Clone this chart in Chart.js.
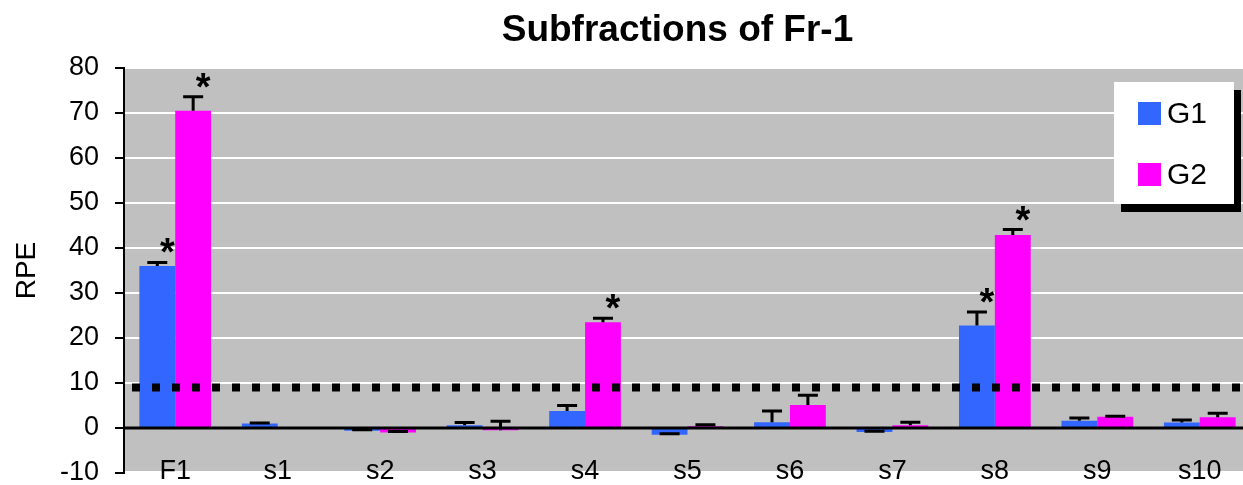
<!DOCTYPE html>
<html>
<head>
<meta charset="utf-8">
<script src="https://cdn.jsdelivr.net/npm/chart.js@4.4.0/dist/chart.umd.min.js"></script>
<style>
  html, body { margin: 0; padding: 0; background: #fff; overflow: hidden; }
  #wrap { width: 1251px; height: 485px; position: relative; }
</style>
</head>
<body>
<div id="wrap"><canvas id="grafico"></canvas></div>
<script>
// Dados
const titulo = "Subfractions of Fr-1";
const categorias = ["F1", "s1", "s2", "s3", "s4", "s5", "s6", "s7", "s8", "s9", "s10"];
const g1Valores = [36.0, 1.0, -0.6, 0.6, 3.8, -1.5, 1.3, -0.9, 22.8, 1.6, 1.2];
const g1Erros   = [0.8, 0.1, 0.2, 0.6, 1.2, 0.2, 2.5, 0.2, 3.0, 0.6, 0.6];
const g1Signif  = [true, false, false, false, false, false, false, false, true, false, false];
const g2Valores = [70.5, 0, -1.0, -0.5, 23.5, 0.4, 5.1, 0.6, 42.9, 2.5, 2.4];
const g2Erros   = [3.1, 0, 0.2, 2.0, 0.9, 0.3, 2.2, 0.7, 1.2, 0.1, 0.9];
const g2Signif  = [true, false, false, false, true, false, false, false, true, false, false];
const limiar = 9;
const yMin = -10, yMax = 80, yPasso = 10;

const FONTE = "'Liberation Sans', Arial, sans-serif";

const fundoPlugin = {
  id: "fundo",
  beforeDraw(chart) {
    const { ctx, chartArea: a } = chart;
    ctx.save();
    ctx.fillStyle = "#c0c0c0";
    ctx.fillRect(a.left, a.top, a.right - a.left, a.bottom - a.top - 2);
    ctx.restore();
  }
};

const extrasPlugin = {
  id: "extras",
  afterDatasetsDraw(chart) {
    const { ctx, chartArea: a } = chart;
    const y = chart.scales.y;
    ctx.save();

    // linha do zero
    ctx.strokeStyle = "#000";
    ctx.lineWidth = 3;
    ctx.beginPath();
    ctx.moveTo(a.left, y.getPixelForValue(0));
    ctx.lineTo(a.right, y.getPixelForValue(0));
    ctx.stroke();

    // barras de erro e asteriscos
    chart.data.datasets.forEach((ds, i) => {
      const meta = chart.getDatasetMeta(i);
      meta.data.forEach((bar, j) => {
        const err = ds.erros[j];
        const v = ds.data[j];
        if (err) {
          const y0 = y.getPixelForValue(v);
          const y1 = y.getPixelForValue(v + err);
          ctx.strokeStyle = "#000";
          ctx.lineWidth = 3;
          ctx.beginPath();
          ctx.moveTo(bar.x, y0);
          ctx.lineTo(bar.x, y1);
          ctx.moveTo(bar.x - 10, y1);
          ctx.lineTo(bar.x + 10, y1);
          ctx.stroke();
        }
        if (ds.signif[j]) {
          const yc = y.getPixelForValue(v + err);
          ctx.fillStyle = "#000";
          ctx.font = "bold 38px " + FONTE;
          ctx.textAlign = "center";
          ctx.textBaseline = "alphabetic";
          ctx.fillText("*", bar.x + 10, yc + 3);
        }
      });
    });

    // linha pontilhada do limiar
    const yl = y.getPixelForValue(limiar);
    ctx.strokeStyle = "#000";
    ctx.lineWidth = 8;
    ctx.setLineDash([8, 12]);
    ctx.beginPath();
    ctx.moveTo(a.left + 8, yl);
    ctx.lineTo(a.right, yl);
    ctx.stroke();
    ctx.setLineDash([]);
    ctx.restore();
  },
  afterDraw(chart) {
    const { ctx, chartArea: a } = chart;
    ctx.save();

    // título
    ctx.fillStyle = "#000";
    ctx.font = "bold 37px " + FONTE;
    ctx.textAlign = "center";
    ctx.textBaseline = "middle";
    ctx.fillText(titulo, (a.left + a.right) / 2 - 10, 31);

    // legenda com sombra
    const x0 = a.right - 137, y0 = a.top + 14, w = 120, h = 122;
    ctx.fillStyle = "#000";
    ctx.fillRect(x0 + 7, y0 + 8, w, h);
    ctx.fillStyle = "#fff";
    ctx.fillRect(x0, y0, w, h);
    chart.data.datasets.forEach((ds, i) => {
      const yy = y0 + 20 + i * 61;
      ctx.fillStyle = ds.backgroundColor;
      ctx.fillRect(x0 + 24, yy, 23, 23);
      ctx.fillStyle = "#000";
      ctx.font = "30px " + FONTE;
      ctx.textAlign = "left";
      ctx.textBaseline = "middle";
      ctx.fillText(ds.label, x0 + 53, yy + 13);
    });
    ctx.restore();
  }
};

new Chart(document.getElementById("grafico"), {
  type: "bar",
  data: {
    labels: categorias,
    datasets: [
      { label: "G1", data: g1Valores, erros: g1Erros, signif: g1Signif, backgroundColor: "#3366ff" },
      { label: "G2", data: g2Valores, erros: g2Erros, signif: g2Signif, backgroundColor: "#ff00ff" }
    ]
  },
  options: {
    responsive: true,
    maintainAspectRatio: false,
    animation: false,
    categoryPercentage: 0.7,
    barPercentage: 1.0,
    layout: { padding: { top: 68, left: 0, right: 0, bottom: 0 } },
    plugins: {
      legend: { display: false },
      tooltip: { enabled: false },
      title: { display: false }
    },
    scales: {
      x: {
        grid: { display: false },
        border: { display: false },
        ticks: { color: "#000", font: { family: FONTE, size: 27 }, mirror: true, padding: -15, maxRotation: 0 },
        afterFit(scale) {
          scale.height = 12;
          scale.paddingLeft = 0;
          scale.paddingRight = 0;
        }
      },
      y: {
        min: yMin,
        max: yMax,
        ticks: { stepSize: yPasso, color: "#000", font: { family: FONTE, size: 27 }, padding: 16 },
        grid: {
          color: c => (c.tick && c.tick.value === 0 ? "#000" : "#fff"),
          lineWidth: 2,
          tickColor: "#000",
          tickWidth: 2,
          tickLength: 9
        },
        border: { display: true, color: "#000", width: 2 },
        title: {
          display: true,
          text: "RPE",
          color: "#000",
          font: { family: FONTE, size: 28 },
          padding: { top: 10, bottom: 0 }
        },
        afterFit(scale) {
          scale.width = 124;
          scale.paddingTop = 0;
          scale.paddingBottom = 0;
        }
      }
    }
  },
  plugins: [fundoPlugin, extrasPlugin]
});
</script>
</body>
</html>
